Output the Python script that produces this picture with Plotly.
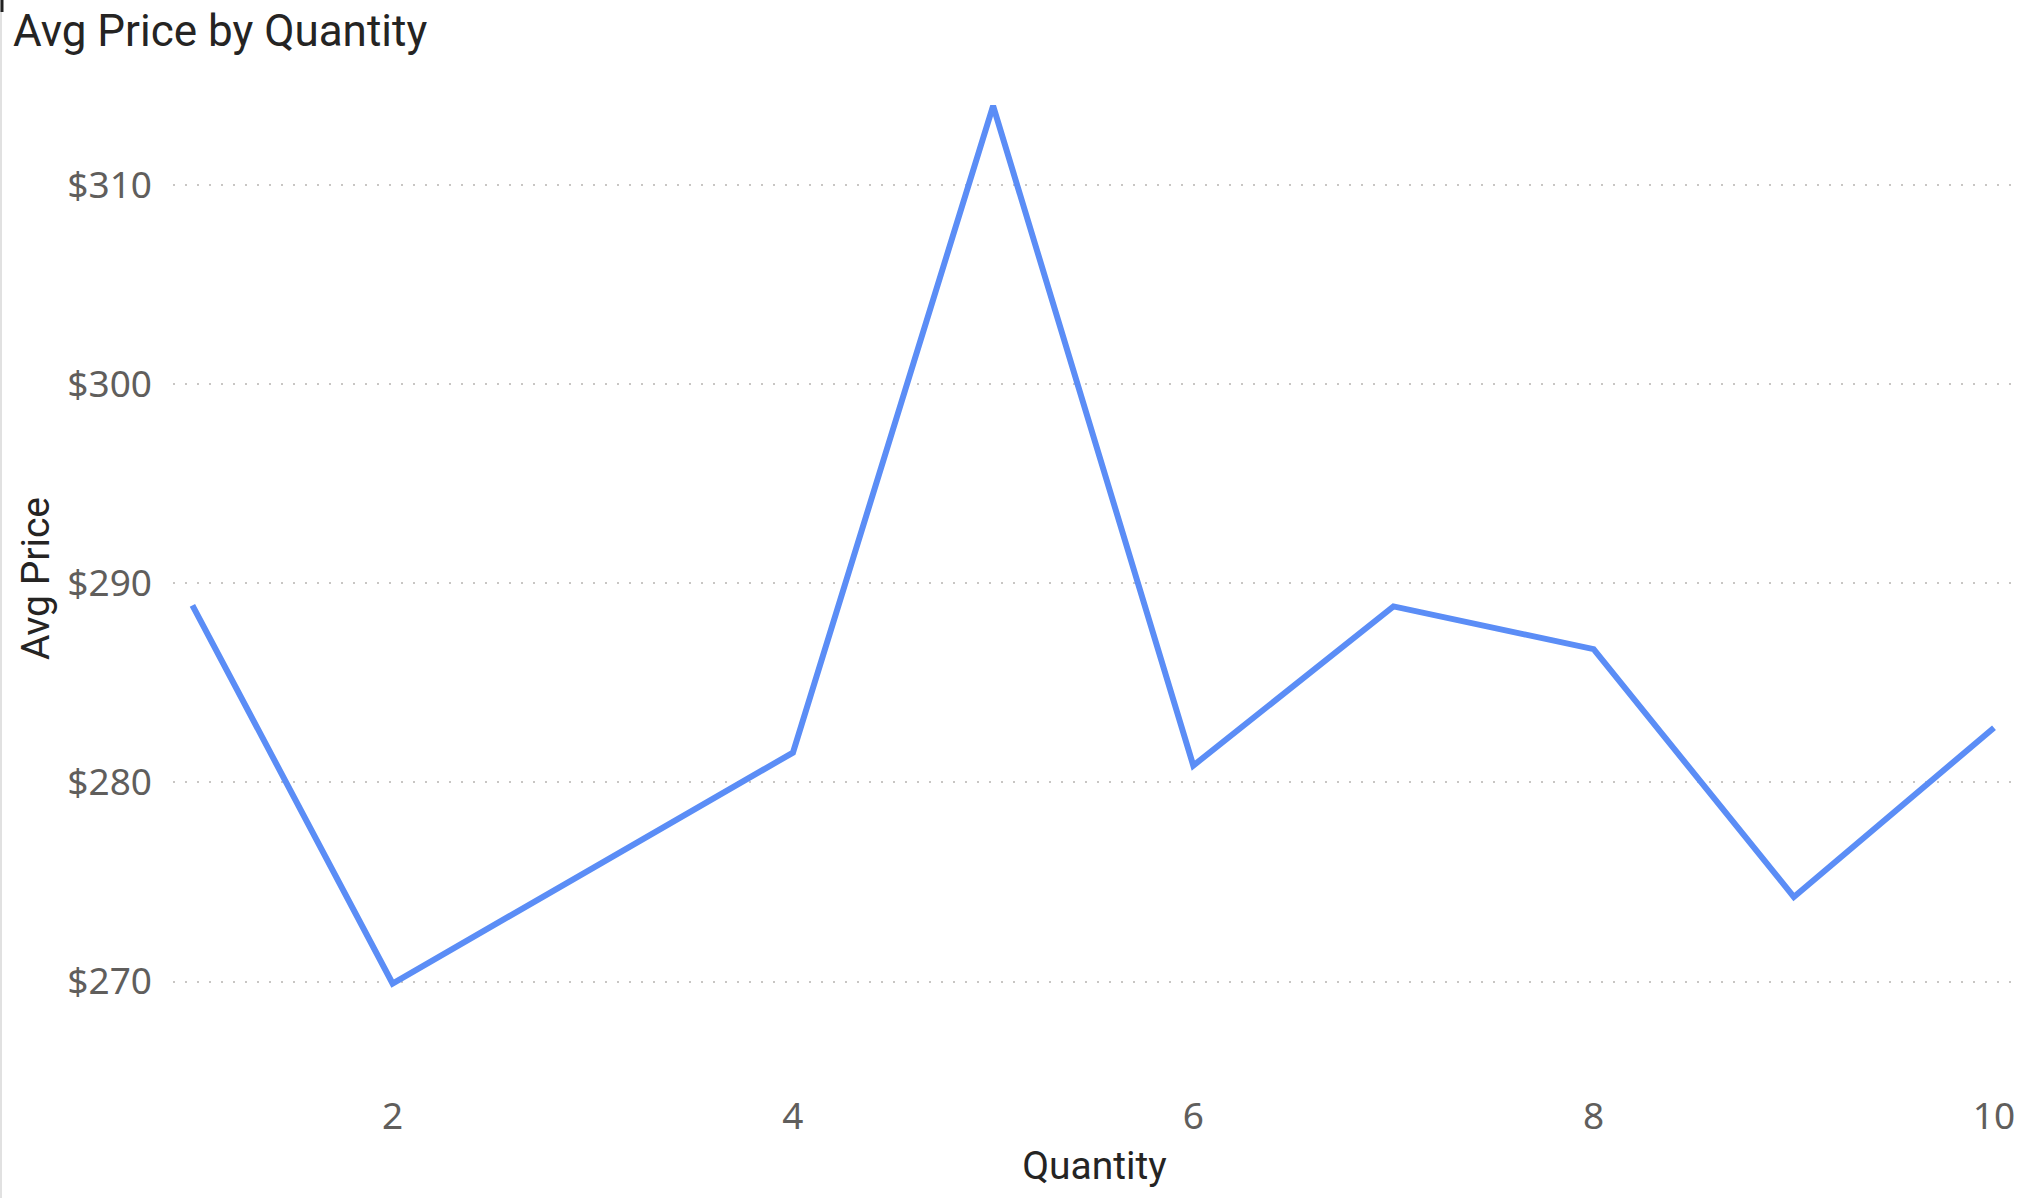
import plotly.graph_objects as go

quantity = [1, 2, 3, 4, 5, 6, 7, 8, 9, 10]
avg_price = [288.9, 269.9, 275.7, 281.5, 314.0, 280.85, 288.85, 286.7, 274.25, 282.75]
y_ticks = [270, 280, 290, 300, 310]
y_tick_labels = ["$270", "$280", "$290", "$300", "$310"]
x_ticks = [2, 4, 6, 8, 10]

W, H = 2042, 1198
L, R, T, B = 173, 26, 76, 117

fig = go.Figure()
fig.add_trace(go.Scatter(
    x=quantity, y=avg_price, mode="lines",
    line=dict(color="#5B8DF6", width=6),
    hoverinfo="skip", showlegend=False,
))

grid_color = "#C8C6C4"
tick_font = dict(family="Noto Sans, Open Sans, sans-serif", size=37, color="#605E5C")
title_font = dict(family="Roboto, sans-serif", size=39, color="#252423")

fig.update_layout(
    width=W, height=H,
    margin=dict(l=L, r=R, t=T, b=B, pad=0),
    paper_bgcolor="white", plot_bgcolor="white",
    title=dict(text="Avg Price by Quantity", x=13 / W, xanchor="left",
               y=1 - 31 / H, yanchor="middle",
               font=dict(family="Roboto, sans-serif", size=44, color="#252423")),
    xaxis=dict(range=[0.903, 10.11], tickvals=x_ticks, showgrid=False,
               zeroline=False, showline=False, tickfont=tick_font,
               ticks="", ticklabelstandoff=10,
               title=dict(text="Quantity", font=title_font, standoff=12)),
    yaxis=dict(range=[265.0, 315.5], tickvals=y_ticks, ticktext=y_tick_labels,
               showgrid=True, gridcolor=grid_color, gridwidth=2,
               griddash="2px,10px", zeroline=False, showline=False,
               tickfont=tick_font, ticks="", ticklabelstandoff=20,
               title=dict(text="Avg Price", font=title_font, standoff=5)),
)

plot_w = W - L - R
plot_h = H - T - B
fig.add_shape(type="line", xref="paper", yref="paper",
              x0=-(L - 1) / plot_w, x1=-(L - 1) / plot_w,
              y0=-B / plot_h, y1=1 + T / plot_h,
              line=dict(color="#E1E1E1", width=2))
fig.add_shape(type="line", xref="paper", yref="paper",
              x0=-(L - 2) / plot_w, x1=-(L - 2) / plot_w,
              y0=1 + T / plot_h, y1=1 + (T - 12) / plot_h,
              line=dict(color="#222222", width=3))

fig.write_html("out.html", config={"displayModeBar": False},
               post_script="document.body.style.margin='0';document.body.style.overflow='hidden';")
